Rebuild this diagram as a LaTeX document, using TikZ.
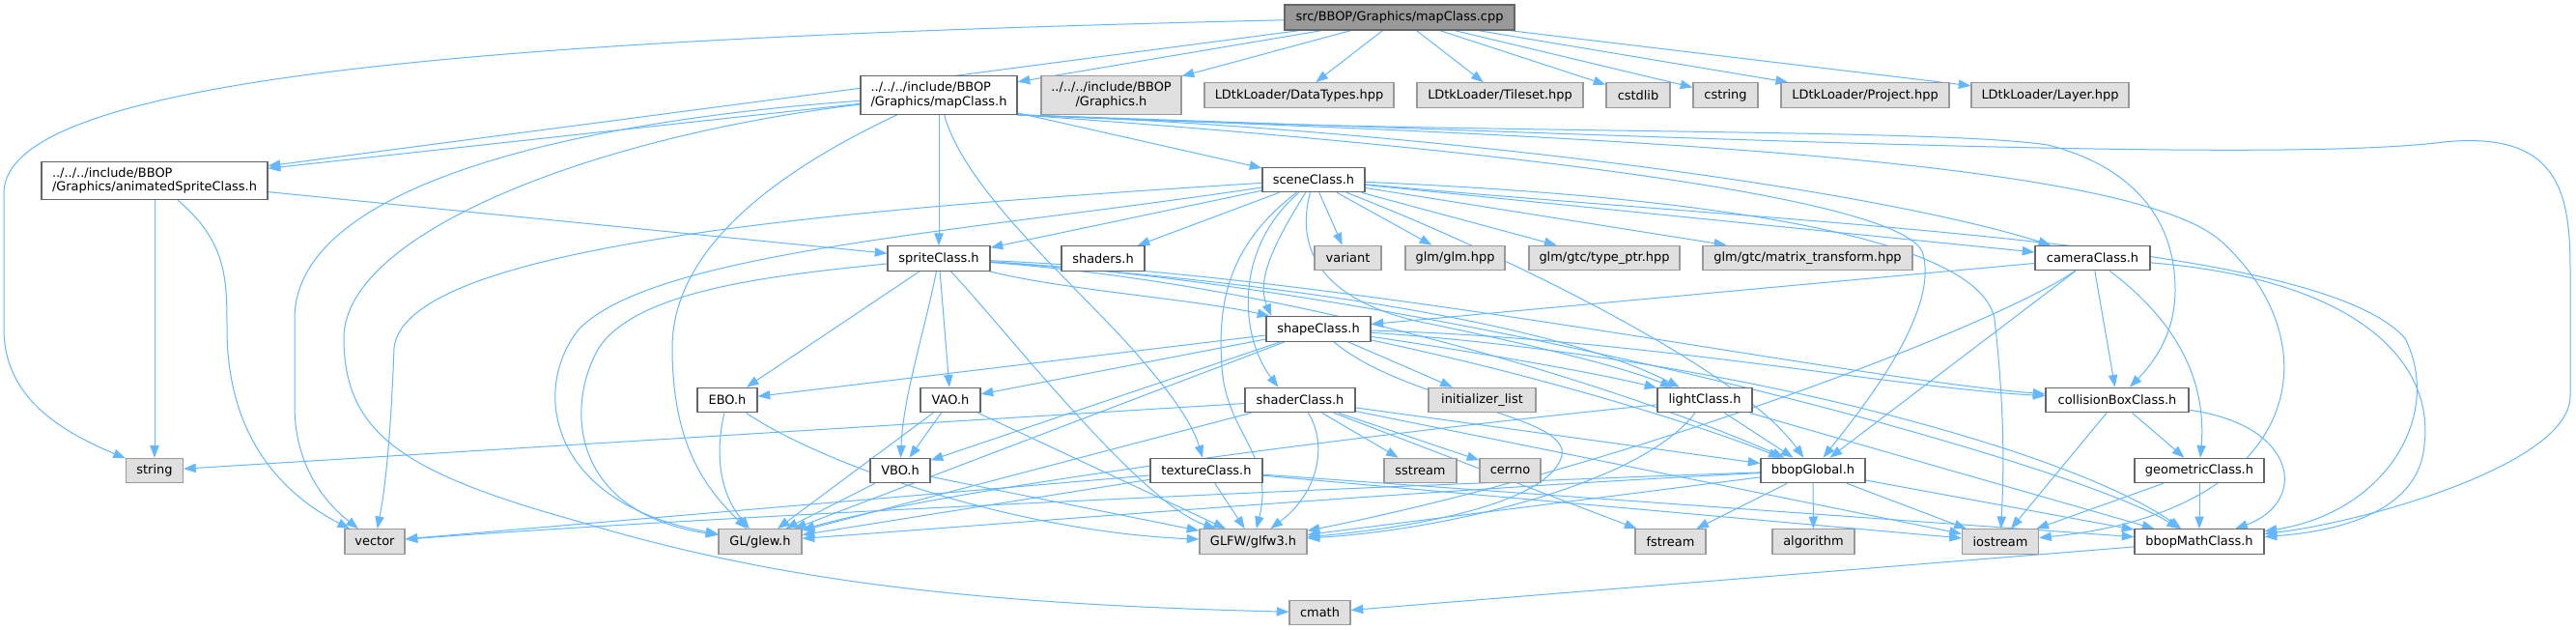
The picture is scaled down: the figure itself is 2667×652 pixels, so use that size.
\documentclass[tikz,border=0pt]{standalone}
\usepackage{fontspec}
\setmainfont{DejaVu Sans}
\usetikzlibrary{arrows.meta,calc}
\definecolor{edgeblue}{HTML}{63B8FF}
\definecolor{xfill}{HTML}{E0E0E0}
\definecolor{xdraw}{HTML}{999999}
\definecolor{idraw}{HTML}{666666}
\definecolor{topfill}{HTML}{999999}
\pgfdeclarelayer{bg}
\pgfsetlayers{bg,main}
\begin{document}
\begin{tikzpicture}[x=0.75pt,y=-0.75pt,
  box/.style={draw, line width=0.9pt, inner sep=0pt, minimum height=19.1pt, font=\fontsize{9.7}{10.8}\selectfont, text=black},
  inode/.style={box, draw=idraw, fill=white},
  xnode/.style={box, draw=xdraw, fill=xfill},
  topnode/.style={box, draw=idraw, fill=topfill},
  tall/.style={minimum height=29.6pt},
  ln/.style={draw=edgeblue, line width=0.75pt, -{Triangle[length=9.5pt,width=7pt]}}]
\useasboundingbox (0,0) rectangle (2667,652);
% nodes
\node[topnode, minimum width=178.5pt, minimum height=19.5pt] (A) at (1449,18) {src/BBOP/Graphics/mapClass.cpp};
\node[inode, tall, minimum width=121.5pt, align=left] (B) at (972,98.5) {../../../include/BBOP\\/Graphics/mapClass.h};
\node[xnode, tall, minimum width=108.75pt, align=center] (C) at (1150.5,98.5) {../../../include/BBOP\\/Graphics.h};
\node[xnode, minimum width=147pt] (D1) at (1345,98.5) {LDtkLoader/DataTypes.hpp};
\node[xnode, minimum width=129pt] (D2) at (1553,98.5) {LDtkLoader/Tileset.hpp};
\node[xnode, minimum width=49.5pt] (D3) at (1696,98.5) {cstdlib};
\node[xnode, minimum width=50.25pt] (D4) at (1786.5,98.5) {cstring};
\node[xnode, minimum width=130.5pt] (D5) at (1931,98.5) {LDtkLoader/Project.hpp};
\node[xnode, minimum width=122.25pt] (D6) at (2122.5,98.5) {LDtkLoader/Layer.hpp};
\node[inode, tall, minimum width=175.5pt, align=left] (E) at (160,187) {../../../include/BBOP\\/Graphics/animatedSpriteClass.h};
\node[inode, minimum width=79.5pt] (F) at (1360,186) {sceneClass.h};
\node[inode, minimum width=79.5pt] (G) at (972,267.5) {spriteClass.h};
\node[inode, minimum width=64.5pt] (H) at (1142,267.5) {shaders.h};
\node[xnode, minimum width=51.75pt] (I) at (1395.5,267) {variant};
\node[xnode, minimum width=77.25pt] (J) at (1506.5,267) {glm/glm.hpp};
\node[xnode, minimum width=117pt] (K) at (1661,267) {glm/gtc/type\_ptr.hpp};
\node[xnode, minimum width=162.75pt] (L) at (1871.5,267) {glm/gtc/matrix\_transform.hpp};
\node[inode, minimum width=89.25pt] (M) at (2166.5,267) {cameraClass.h};
\node[inode, minimum width=81pt] (N) at (1365,340.5) {shapeClass.h};
\node[inode, minimum width=46.5pt] (O) at (753,414) {EBO.h};
\node[inode, minimum width=46.5pt] (P) at (984,414) {VAO.h};
\node[inode, minimum width=85.5pt] (Q) at (1346,414) {shaderClass.h};
\node[xnode, minimum width=83.25pt] (R) at (1534.5,414) {initializer\_list};
\node[inode, minimum width=73.5pt] (S) at (1765,414) {lightClass.h};
\node[inode, minimum width=111pt] (T) at (2192,414) {collisionBoxClass.h};
\node[xnode, minimum width=44.25pt] (U) at (160,487) {string};
\node[inode, minimum width=46.5pt] (V) at (932,487) {VBO.h};
\node[inode, minimum width=87pt] (W) at (1249,487) {textureClass.h};
\node[xnode, minimum width=56.25pt] (X) at (1470.5,487) {sstream};
\node[xnode, minimum width=47.25pt] (Y) at (1563.5,487) {cerrno};
\node[inode, minimum width=81pt] (Z) at (1877,487) {bbopGlobal.h};
\node[inode, minimum width=100.5pt] (AA) at (2277,487) {geometricClass.h};
\node[xnode, minimum width=46.5pt] (vec) at (388,560.5) {vector};
\node[xnode, minimum width=64.5pt] (glew) at (787,560.5) {GL/glew.h};
\node[xnode, minimum width=83.25pt] (glfw) at (1297.5,560.5) {GLFW/glfw3.h};
\node[xnode, minimum width=54.75pt] (fst) at (1729.5,560.5) {fstream};
\node[xnode, minimum width=63.75pt] (alg) at (1877.5,560.5) {algorithm};
\node[xnode, minimum width=59.25pt] (ios) at (2071,560.5) {iostream};
\node[inode, minimum width=100.5pt] (math) at (2277,560.5) {bbopMathClass.h};
\node[xnode, minimum width=47.25pt] (cmath) at (1366.5,634) {cmath};
\begin{pgfonlayer}{bg}
\fill[white] (0,0) rectangle (2667,652);
% A
\draw[ln] (A) .. controls (500,40) and (4,80) .. (4,200) -- (4,340) .. controls (4,410) and (60,445) .. (U);
\draw[ln] (A) -- (E);
\draw[ln] (A) -- (B);
\draw[ln] (A) -- (C);
\draw[ln] (A) -- (D1);
\draw[ln] (A) -- (D2);
\draw[ln] (A) -- (D3);
\draw[ln] (A) -- (D4);
\draw[ln] (A) -- (D5);
\draw[ln] (A) -- (D6);
% B
\draw[ln] (B) -- (E);
\draw[ln] (B) -- (F);
\draw[ln] (B) -- (G);
\draw[ln] (B) .. controls (600,125) and (305,190) .. (305,330) -- (305,420) .. controls (305,475) and (330,515) .. (vec);
\draw[ln] (B) .. controls (820,170) and (696,250) .. (696,360) .. controls (696,460) and (730,505) .. (glew);
\draw[ln] (B) .. controls (620,140) and (356,240) .. (356,350) .. controls (356,450) and (420,490) .. (600,540) .. controls (800,600) and (1000,625) .. (cmath);
\draw[ln] (B) .. controls (1000,200) and (1120,300) .. (1180,370) .. controls (1215,410) and (1235,440) .. (W);
\draw[ln] (B.south east) .. controls (1400,130) and (1900,185) .. (M);
\draw[ln] (B.south east) .. controls (1500,140) and (2000,132) .. (2120,150) .. controls (2200,170) and (2252,220) .. (2252,300) .. controls (2252,350) and (2225,380) .. (T);
\draw[ln] (B.south east) .. controls (1500,150) and (1960,200) .. (1990,260) .. controls (2010,320) and (1930,420) .. (Z);
\draw[ln] (B.south east) .. controls (1600,140) and (2200,160) .. (2300,250) .. controls (2420,360) and (2380,530) .. (ios);
\draw[ln] (B.south east) .. controls (1700,140) and (2350,170) .. (2530,147) .. controls (2650,135) and (2661,200) .. (2661,280) -- (2661,410) .. controls (2661,480) and (2450,540) .. (math);
% E
\draw[ln] (E) -- (G);
\draw[ln] (E) -- (U);
\draw[ln] (E) .. controls (235,250) and (235,290) .. (235,340) .. controls (235,450) and (290,510) .. (vec);
% F
\draw[ln] (F) -- (G);
\draw[ln] (F) -- (H);
\draw[ln] (F) -- (I);
\draw[ln] (F) -- (J);
\draw[ln] (F) -- (K);
\draw[ln] (F) -- (L);
\draw[ln] (F) -- (M);
\draw[ln] (F) .. controls (1320,250) and (1300,290) .. ($(N.north west)+(6,0)$);
\draw[ln] (F) .. controls (1275,260) and (1285,350) .. ($(Q.north west)+(35,0)$);
\draw[ln] (F) .. controls (1335,280) and (1400,320) .. (1480,335) .. controls (1600,360) and (1680,380) .. (S);
\draw[ln] (F) .. controls (1550,260) and (1800,380) .. (Z);
\draw[ln] (F) .. controls (900,215) and (420,250) .. (408,360) .. controls (405,440) and (400,500) .. (vec);
\draw[ln] (F) .. controls (1000,240) and (680,260) .. (600,340) .. controls (550,400) and (565,520) .. (glew);
\draw[ln] (F) .. controls (1262,260) and (1262,330) .. (1265,380) .. controls (1270,450) and (1320,470) .. (glfw);
\draw[ln] (F) .. controls (1800,205) and (2050,250) .. (2065,330) .. controls (2075,420) and (2075,480) .. (ios);
\draw[ln] (F) .. controls (1900,235) and (2400,250) .. (2490,350) .. controls (2530,430) and (2470,530) .. (math);
% G
\draw[ln] (G) -- (O);
\draw[ln] (G) -- (P);
\draw[ln] (G) .. controls (958,340) and (935,410) .. (V);
\draw[ln] (G) .. controls (1040,340) and (1180,520) .. (glfw);
\draw[ln] (G) .. controls (1100,300) and (1240,310) .. ($(N.north west)+(4,0)$);
\draw[ln] (G) .. controls (1300,290) and (1600,330) .. (S);
\draw[ln] (G) .. controls (1400,285) and (1900,390) .. (T);
\draw[ln] (G) .. controls (1400,300) and (1750,430) .. (Z);
\draw[ln] (G) .. controls (1500,300) and (2150,480) .. (math);
\draw[ln] (G) .. controls (800,285) and (660,300) .. (620,360) .. controls (585,420) and (590,530) .. (glew);
% N
\draw[ln] (N) -- (O);
\draw[ln] (N) -- (P);
\draw[ln] (N) -- (V);
\draw[ln] (N) -- (R);
\draw[ln] (N) .. controls (1500,360) and (1650,385) .. (S);
\draw[ln] (N) .. controls (1700,350) and (1950,400) .. (T);
\draw[ln] (N) .. controls (1600,390) and (1760,440) .. (Z);
\draw[ln] (N) .. controls (1800,370) and (2150,470) .. (math);
\draw[ln] (N) -- (glew);
\draw[ln] (N) .. controls (1460,420) and (1640,430) .. (1615,477) .. controls (1590,530) and (1420,550) .. (glfw);
% M
\draw[ln] (M) -- (N);
\draw[ln] (M) -- (T);
\draw[ln] (M) -- (Z);
\draw[ln] (M) .. controls (2250,330) and (2285,390) .. (AA);
\draw[ln] (M) .. controls (2450,290) and (2520,380) .. (2510,460) .. controls (2505,530) and (2420,550) .. (math);
\draw[ln] (M) .. controls (2080,330) and (1700,480) .. (glfw);
% S
\draw[ln] (S) -- (Z);
\draw[ln] (S) .. controls (1700,500) and (1500,548) .. (glfw);
\draw[ln] (S) -- (math);
\draw[ln] (S) .. controls (1500,440) and (1000,500) .. (glew);
% Q
\draw[ln] (Q) -- (U);
\draw[ln] (Q) -- (glew);
\draw[ln] (Q) .. controls (1375,460) and (1365,510) .. (glfw);
\draw[ln] (Q) -- (X);
\draw[ln] (Q) -- (Y);
\draw[ln] (Q) -- (fst);
\draw[ln] (Q) -- (Z);
\draw[ln] (Q) -- (ios);
% W
\draw[ln] (W) -- (glew);
\draw[ln] (W) -- (glfw);
\draw[ln] (W) -- (ios);
\draw[ln] (W) -- (math);
\draw[ln] (W) -- (vec);
% V P O
\draw[ln] (V) -- (glew);
\draw[ln] (V) -- (glfw);
\draw[ln] (P) -- (V);
\draw[ln] (P) -- (glew);
\draw[ln] (P) -- (glfw);
\draw[ln] (O) .. controls (740,470) and (745,510) .. (glew);
\draw[ln] (O) .. controls (850,480) and (1050,550) .. (glfw);
% Z
\draw[ln] (Z) .. controls (1500,500) and (800,530) .. (vec);
\draw[ln] (Z) .. controls (1500,505) and (1000,545) .. (glew);
\draw[ln] (Z) -- (glfw);
\draw[ln] (Z) -- (fst);
\draw[ln] (Z) -- (alg);
\draw[ln] (Z) -- (ios);
\draw[ln] (Z) -- (math);
% T, AA, math
\draw[ln] (T) -- (AA);
\draw[ln] (T) -- (ios);
\draw[ln] (T) .. controls (2380,440) and (2390,520) .. (math);
\draw[ln] (AA) -- (ios);
\draw[ln] (AA) -- (math);
\draw[ln] (math) -- (cmath);
\end{pgfonlayer}
\end{tikzpicture}
\end{document}
